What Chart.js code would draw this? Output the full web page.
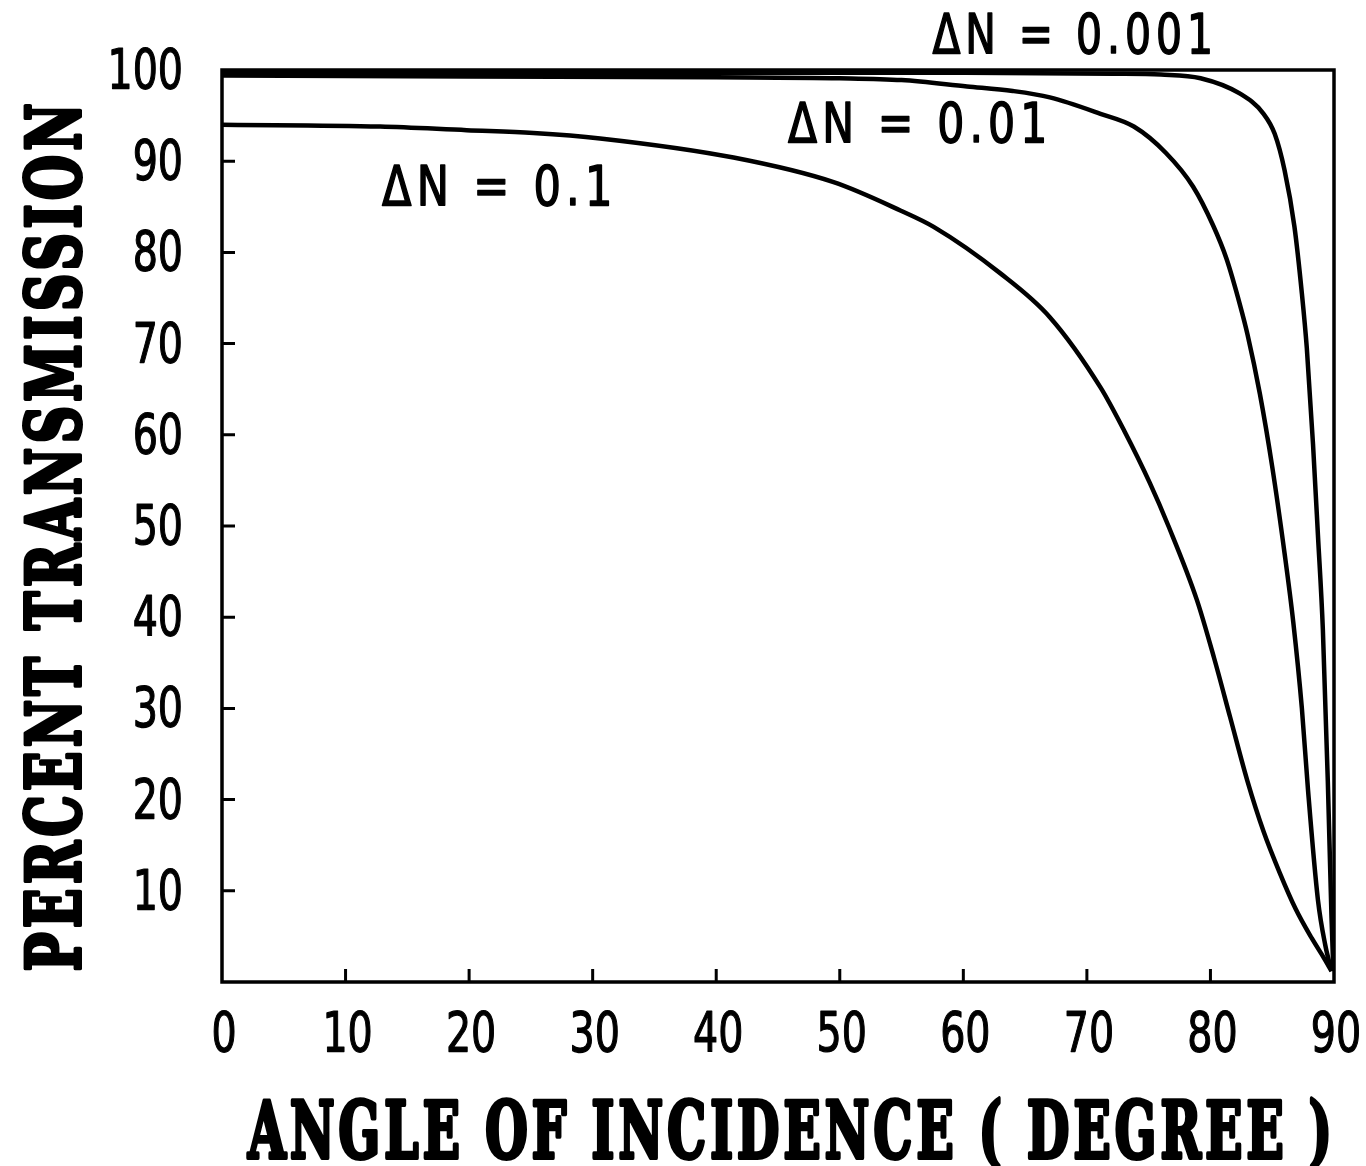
<!DOCTYPE html>
<html>
<head>
<meta charset="utf-8">
<script src="https://cdn.jsdelivr.net/npm/chart.js@4.4.1/dist/chart.umd.min.js"></script>
<style>
  body { margin: 0; background: #fff; }
  #wrap { width: 1366px; height: 1166px; }
</style>
</head>
<body>
<div id="wrap"><canvas id="myChart"></canvas></div>
<script>
// angle of incidence (degree) and percent transmission
var angles01 = [0, 12.8, 19.8, 25.2, 30.6, 41.4, 49.5, 54.9, 57.6, 63.0, 67.0, 71.1, 73.0, 75.1, 76.6, 78.9, 80.3, 81.6, 83.0, 84.3, 85.6, 86.9, 88.2, 89.2, 89.8];
var trans01  = [94.0, 93.8, 93.4, 93.1, 92.5, 90.4, 87.7, 84.6, 82.8, 77.7, 72.9, 65.2, 60.5, 54.7, 50.0, 41.9, 35.5, 29.0, 22.0, 16.5, 12.0, 8.0, 4.8, 2.6, 1.2];

var angles001 = [0, 20, 40, 50, 55, 60.3, 64, 67, 71.1, 73.8, 76.4, 78.6, 80.2, 81.3, 82.4, 83.0, 84.0, 85.0, 86.0, 86.7, 87.4, 87.9, 88.7, 89.3, 89.8];
var trans001  = [99.4, 99.3, 99.2, 99.1, 98.9, 98.2, 97.7, 97.0, 95.2, 93.8, 90.9, 87.2, 83.0, 79.3, 74.2, 71.0, 64.5, 56.5, 47.0, 39.5, 30.0, 21.0, 9.0, 4.0, 1.2];

var angles0001 = [0, 30, 60, 72, 76, 79.2, 82.4, 84.3, 85.2, 86.0, 86.8, 87.4, 87.8, 88.3, 88.7, 89.1, 89.5, 89.8, 89.95];
var trans0001  = [99.7, 99.7, 99.7, 99.6, 99.5, 99.1, 97.4, 95.2, 93.0, 89.0, 82.8, 75.5, 69.5, 59.0, 49.0, 38.6, 22.0, 7.0, 1.2];

var curveNames = ['\u0394N = 0.1', '\u0394N = 0.01', '\u0394N = 0.001'];
var xTicks = [0, 10, 20, 30, 40, 50, 60, 70, 80, 90];
var yTicks = [10, 20, 30, 40, 50, 60, 70, 80, 90, 100];

// where the curve names sit: [left angle, baseline %, right angle]
var nameSpots = [[12.95, 85.2, 31.6], [45.8, 92.1, 66.8], [57.5, 101.9, 80.2]];

var tickFont = "'DejaVu Sans Condensed', 'DejaVu Sans', sans-serif";
var titleFont = "'DejaVu Serif Condensed', 'DejaVu Serif', serif";

function pts(xs, ys) {
    var out = [];
    for (var i = 0; i < xs.length; i++) out.push({x: xs[i], y: ys[i]});
    return out;
}

// text squeezed or stretched to a given width, with some letter spacing
function fitText(ctx, text, x, y, width, align, spacing, stroke) {
    ctx.save();
    ctx.letterSpacing = spacing + 'px';
    var w = ctx.measureText(text).width - spacing;
    ctx.translate(x, y);
    ctx.scale(width / w, 1);
    ctx.textAlign = align;
    ctx.fillText(text, 0, 0);
    if (stroke) ctx.strokeText(text, 0, 0);
    ctx.restore();
}

function squeezed(ctx, text, x, y, sx, align) {
    ctx.save();
    ctx.translate(x, y);
    ctx.scale(sx, 1);
    ctx.textAlign = align;
    ctx.fillText(text, 0, 0);
    ctx.strokeText(text, 0, 0);
    ctx.restore();
}

var framePlugin = {
    id: 'frame',
    afterDatasetsDraw: function(chart) {
        var ctx = chart.ctx, a = chart.chartArea;
        var sx = chart.scales.x, sy = chart.scales.y;
        ctx.save();
        ctx.strokeStyle = '#000';
        ctx.lineWidth = 3.5;
        ctx.strokeRect(a.left, a.top, a.right - a.left, a.bottom - a.top);
        // inward tick marks
        ctx.beginPath();
        for (var i = 1; i < xTicks.length - 1; i++) {
            var px = sx.getPixelForValue(xTicks[i]);
            ctx.moveTo(px, a.bottom);
            ctx.lineTo(px, a.bottom - 13);
        }
        for (var j = 0; j < yTicks.length - 1; j++) {
            var py = sy.getPixelForValue(yTicks[j]);
            ctx.moveTo(a.left, py);
            ctx.lineTo(a.left + 13, py);
        }
        ctx.lineWidth = 3;
        ctx.stroke();
        ctx.restore();
    },
    afterDraw: function(chart) {
        var ctx = chart.ctx;
        var sx = chart.scales.x, sy = chart.scales.y;
        ctx.save();
        ctx.fillStyle = '#000';
        ctx.strokeStyle = '#000';
        ctx.textBaseline = 'alphabetic';
        ctx.lineJoin = 'round';

        // tick labels
        ctx.font = '55px ' + tickFont;
        ctx.lineWidth = 1.2;
        xTicks.forEach(function(v) {
            squeezed(ctx, String(v), sx.getPixelForValue(v) + 2, 1051, 0.8, 'center');
        });
        yTicks.forEach(function(v) {
            squeezed(ctx, String(v), 183, sy.getPixelForValue(v) + 18, 0.8, 'right');
        });

        // curve names
        ctx.font = '55px ' + tickFont;
        ctx.lineWidth = 1.5;
        for (var i = 0; i < curveNames.length; i++) {
            var s = nameSpots[i];
            var l = sx.getPixelForValue(s[0]), r = sx.getPixelForValue(s[2]);
            fitText(ctx, curveNames[i], l, sy.getPixelForValue(s[1]), r - l, 'left', 6, true);
        }

        // axis titles
        ctx.font = 'bold 78px ' + titleFont;
        ctx.lineWidth = 4;
        fitText(ctx, 'ANGLE OF INCIDENCE ( DEGREE )', 792, 1158, 1084, 'center', 6, true);

        ctx.save();
        ctx.translate(80, 535);
        ctx.rotate(-Math.PI / 2);
        ctx.font = 'bold 75px ' + titleFont;
        fitText(ctx, 'PERCENT TRANSMISSION', 0, 0, 868, 'center', 6, true);
        ctx.restore();
        ctx.restore();
    }
};

var lineStyle = {
    borderColor: '#000',
    borderWidth: 4.5,
    pointRadius: 0,
    fill: false,
    cubicInterpolationMode: 'monotone'
};

var ctx = document.getElementById('myChart').getContext('2d');
var myChart = new Chart(ctx, {
    type: 'line',
    data: {
        datasets: [
            Object.assign({label: curveNames[0], data: pts(angles01, trans01)}, lineStyle),
            Object.assign({label: curveNames[1], data: pts(angles001, trans001)}, lineStyle),
            Object.assign({label: curveNames[2], data: pts(angles0001, trans0001)}, lineStyle)
        ]
    },
    options: {
        responsive: true,
        maintainAspectRatio: false,
        animation: false,
        layout: { padding: { left: 0, top: 70, right: 32, bottom: 0 } },
        plugins: {
            legend: { display: false },
            tooltip: { enabled: false }
        },
        scales: {
            x: {
                type: 'linear',
                position: 'bottom',
                min: 0,
                max: 90,
                afterFit: function(s) { s.height = 184; },
                grid: { display: false, drawTicks: false },
                border: { display: false },
                ticks: { display: false }
            },
            y: {
                type: 'linear',
                position: 'left',
                min: 0,
                max: 100,
                afterFit: function(s) { s.width = 222; },
                grid: { display: false, drawTicks: false },
                border: { display: false },
                ticks: { display: false }
            }
        }
    },
    plugins: [framePlugin]
});
</script>
</body>
</html>
